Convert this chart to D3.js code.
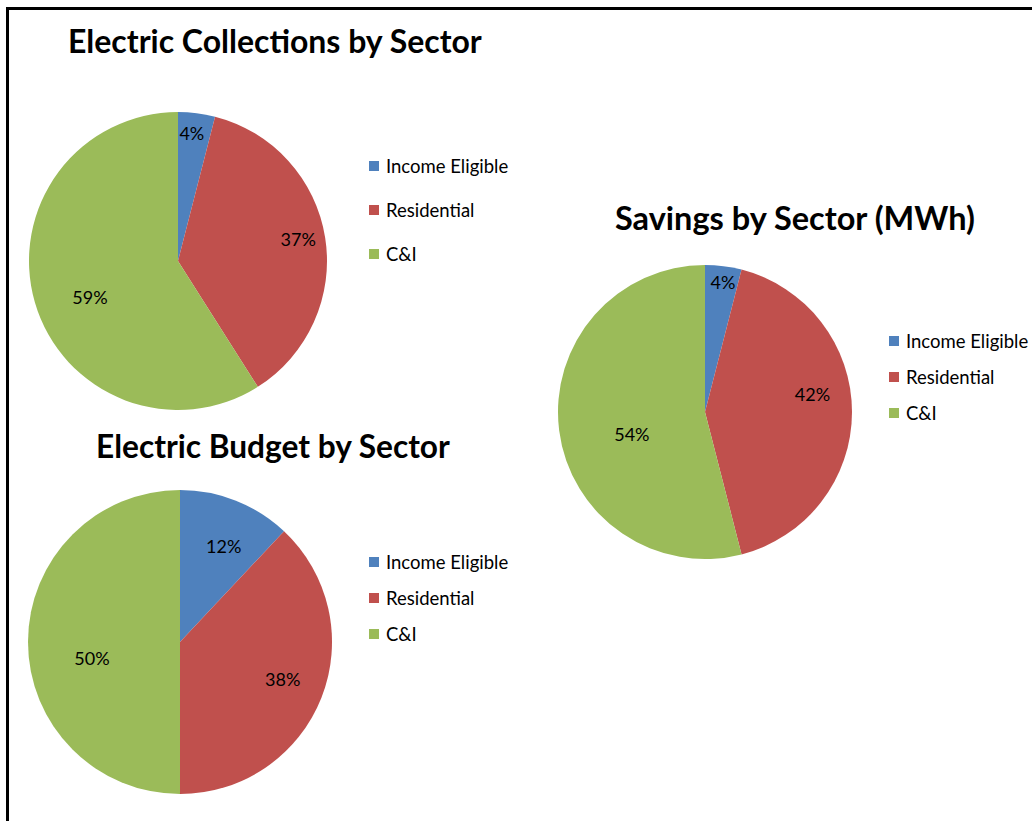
<!DOCTYPE html>
<html>
<head>
<meta charset="utf-8">
<script src="https://cdn.jsdelivr.net/npm/d3@7"></script>
<style>
  html, body { margin: 0; padding: 0; background: #fff; }
  svg { display: block; }
</style>
</head>
<body>
<svg id="chart" width="1032" height="821"></svg>
<script>
// Sector shares (percent) for the three pies
const sectors = ["Income Eligible", "Residential", "C&I"];
const collectionsShare = [4, 37, 59];
const budgetShare = [12, 38, 50];
const savingsShare = [4, 42, 54];

const titles = ["Electric Collections by Sector", "Electric Budget by Sector", "Savings by Sector (MWh)"];
const sectorColors = ["#4F81BD", "#C0504D", "#9BBB59"];

// Layout of each panel: pie centre/radius, title box, legend placement,
// and where each percentage label sits (radius fraction, position along the slice)
const panels = [
  { values: collectionsShare, title: titles[0], cx: 178, cy: 261, r: 149,
    titleX: 68, titleW: 414, titleY: 53,
    legendX: 369, legendY: 166, legendStep: 44,
    labelPos: [[0.86, 0.43], [0.82, 0.49], [0.64, 0.47]] },
  { values: budgetShare, title: titles[1], cx: 180, cy: 642, r: 152,
    titleX: 96, titleW: 354, titleY: 458,
    legendX: 369, legendY: 562, legendStep: 36,
    labelPos: [[0.69, 0.57], [0.72, 0.49], [0.59, 0.44]] },
  { values: savingsShare, title: titles[2], cx: 705, cy: 412, r: 147,
    titleX: 615, titleW: 360, titleY: 230,
    legendX: 889, legendY: 341, legendStep: 36,
    labelPos: [[0.89, 0.55], [0.74, 0.44], [0.52, 0.45]] }
];

const svg = d3.select("#chart");
const FONT = "Lato, 'Open Sans', 'Noto Sans', sans-serif";

// Frame line along the top and left edges
svg.append("path")
  .attr("d", "M7.5,821 V8.5 H1032")
  .attr("fill", "none")
  .attr("stroke", "#000")
  .attr("stroke-width", 3);

const color = d3.scaleOrdinal().domain(sectors).range(sectorColors);

const pie = d3.pie().sort(null).value(d => d.value);

panels.forEach(p => {
  const g = svg.append("g");
  const data = sectors.map((s, i) => ({ sector: s, value: p.values[i] }));
  const arcs = pie(data);
  const arc = d3.arc().innerRadius(0).outerRadius(p.r);

  const pieG = g.append("g").attr("transform", `translate(${p.cx},${p.cy})`);
  pieG.selectAll("path.slice")
    .data(arcs)
    .join("path")
    .attr("class", "slice")
    .attr("d", arc)
    .attr("fill", d => color(d.data.sector));

  // Percentage labels inside the slices
  pieG.selectAll("text.pct")
    .data(arcs)
    .join("text")
    .attr("class", "pct")
    .attr("transform", (d, i) => {
      const [rf, tf] = p.labelPos[i];
      const a = d.startAngle + (d.endAngle - d.startAngle) * tf;
      const rr = p.r * rf;
      return `translate(${rr * Math.sin(a)},${-rr * Math.cos(a)})`;
    })
    .attr("text-anchor", "middle")
    .attr("dy", "0.36em")
    .attr("font-family", FONT)
    .attr("font-size", 18)
    .attr("fill", "#000")
    .text(d => d.data.value + "%");

  // Title, sized to its box
  const t = g.append("text")
    .attr("x", p.titleX)
    .attr("y", p.titleY)
    .attr("font-family", FONT)
    .attr("font-weight", "bold")
    .attr("font-size", 28)
    .attr("fill", "#000")
    .text(p.title);
  const w = t.node().getComputedTextLength();
  t.attr("font-size", 28 * p.titleW / w);

  // Legend
  const lg = g.append("g");
  const rows = lg.selectAll("g")
    .data(sectors)
    .join("g")
    .attr("transform", (d, i) => `translate(${p.legendX},${p.legendY + i * p.legendStep})`);
  rows.append("rect")
    .attr("x", 0).attr("y", -5)
    .attr("width", 10).attr("height", 10)
    .attr("fill", d => color(d));
  rows.append("text")
    .attr("x", 17)
    .attr("dy", "0.36em")
    .attr("font-family", FONT)
    .attr("font-size", 18.5)
    .attr("fill", "#000")
    .text(d => d);
});
</script>
</body>
</html>
